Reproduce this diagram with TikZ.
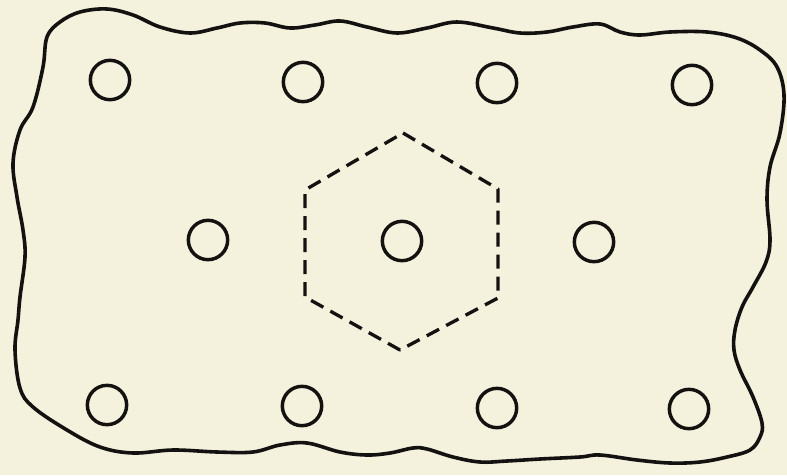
\documentclass[tikz,border=0pt]{standalone}
\definecolor{paper}{RGB}{244,242,220}
\definecolor{ink}{RGB}{20,18,16}
\begin{document}
\begin{tikzpicture}[x=0.75pt,y=-0.75pt,
  outline/.style={draw=ink,line width=2.7pt,line join=round},
  hole/.style={circle,draw=ink,line width=2.6pt,minimum size=29.5pt,inner sep=0pt},
  cell/.style={draw=ink,line width=2.5pt,dash pattern=on 10.5pt off 6pt,line join=round}]
\fill[paper] (0,0) rectangle (787,475);
\useasboundingbox (0,0) rectangle (787,475);
% outer wavy boundary
\draw[outline] plot[smooth cycle,tension=0.6] coordinates {
(47,37) (60,22) (80,12) (107,9) (133,15) (160,27) (190,33) (217,28) (240,23)
(265,23) (290,28) (315,25) (340,21) (367,27) (397,33) (427,28) (457,22) (493,28)
(520,33) (547,32) (573,27) (600,24) (620,32) (640,35) (670,32) (707,32) (737,38)
(760,50) (777,67) (784,95) (780,133) (770,167) (767,200) (770,240) (766,262)
(753,287) (742,307) (735,330) (734,350) (740,370) (753,397) (762,423) (760,437)
(750,450) (727,457) (700,462) (670,463) (637,460) (600,455) (580,457) (540,459)
(507,461) (480,462) (453,457) (427,449) (413,448) (390,453) (367,455) (340,452)
(307,443) (280,445) (253,452) (217,452) (173,450) (133,453) (100,447) (67,430)
(33,407) (20,388) (15,350) (18,320) (20,297) (25,257) (23,230) (17,197) (13,163)
(20,130) (33,107) (43,67)};
% holes
\node[hole] (t1) at (110,80) {};
\node[hole] (t2) at (303,82) {};
\node[hole] (t3) at (497,83) {};
\node[hole] (t4) at (692,85) {};
\node[hole] (m1) at (208,240) {};
\node[hole] (m2) at (402,241) {};
\node[hole] (m3) at (594,242) {};
\node[hole] (b1) at (107,405) {};
\node[hole] (b2) at (302,406) {};
\node[hole] (b3) at (497,408) {};
\node[hole] (b4) at (689,409) {};
% dashed hexagonal cell
\draw[cell] (403,133) -- (498,189) -- (498,298) -- (400,350) -- (305,297) -- (305,190) -- cycle;
\end{tikzpicture}
\end{document}
